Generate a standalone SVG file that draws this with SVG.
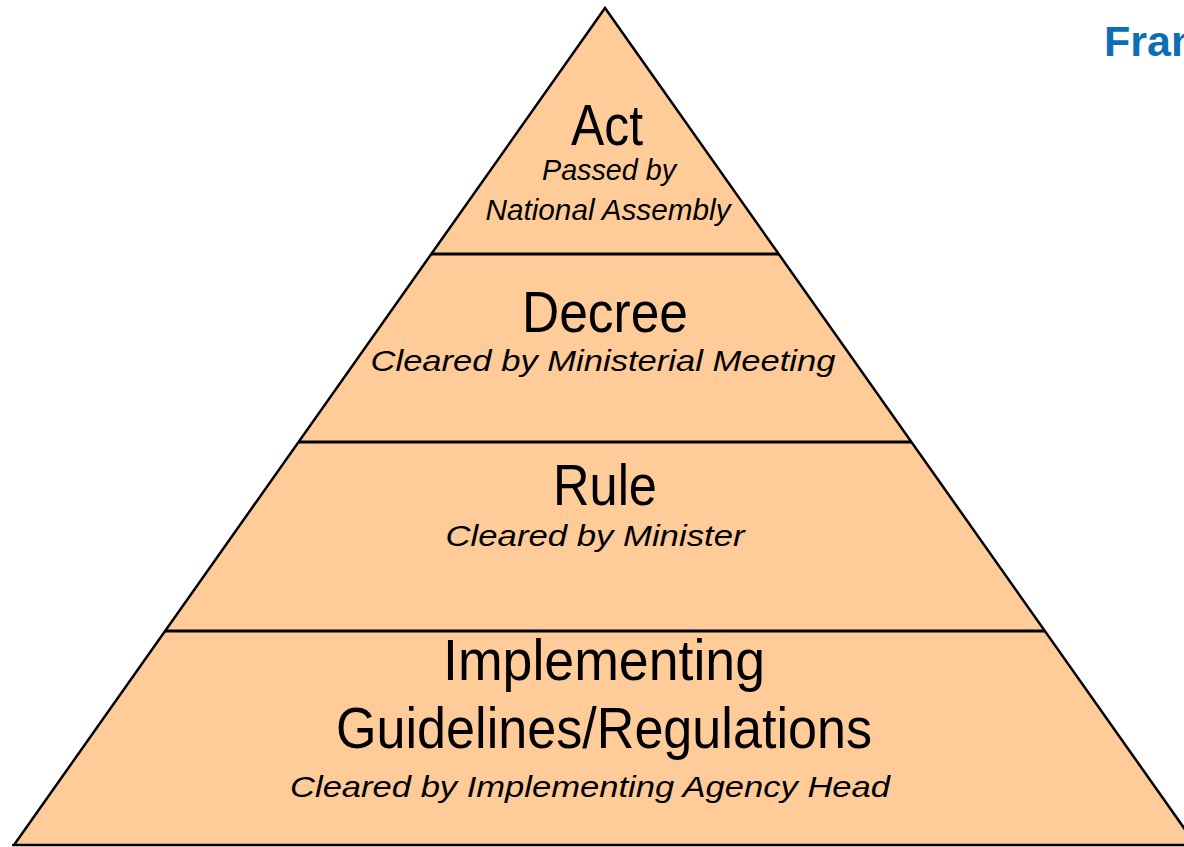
<svg xmlns="http://www.w3.org/2000/svg" width="1184" height="847" viewBox="0 0 1184 847">
<style>
.title{font-family:"Liberation Sans",Arial,sans-serif;font-size:57px;fill:#000;text-anchor:middle}
.sub{font-family:"Liberation Sans",Arial,sans-serif;font-style:italic;font-size:30px;fill:#000;text-anchor:middle}
.div{stroke:#000;stroke-width:3;fill:none}
.head{font-family:"Liberation Sans",Arial,sans-serif;font-weight:bold;font-size:43px;fill:#0F6DB5}
</style>
<rect width="1184" height="847" fill="#fff"/>
<g id="pyramid">
<polygon points="605,8 14,845 1196,845" fill="#FFCC99" stroke="#000" stroke-width="2.5"/>
<line x1="12" y1="845" x2="1184" y2="845" stroke="#000" stroke-width="2"/>
<line class="div" x1="431" y1="254" x2="779" y2="254"/>
<line class="div" x1="299" y1="442" x2="911" y2="442"/>
<line class="div" x1="165" y1="631" x2="1045" y2="631"/>
</g>
<g id="act">
<text class="title" x="607" y="145" textLength="72" lengthAdjust="spacingAndGlyphs">Act</text>
<text class="sub" x="609" y="180" textLength="134" lengthAdjust="spacingAndGlyphs">Passed by</text>
<text class="sub" x="608" y="220" textLength="245" lengthAdjust="spacingAndGlyphs">National Assembly</text>
</g>
<g id="decree">
<text class="title" x="605" y="332" textLength="166" lengthAdjust="spacingAndGlyphs">Decree</text>
<text class="sub" x="603" y="371" textLength="465" lengthAdjust="spacingAndGlyphs">Cleared by Ministerial Meeting</text>
</g>
<g id="rule">
<text class="title" x="605" y="505" textLength="104" lengthAdjust="spacingAndGlyphs">Rule</text>
<text class="sub" x="595" y="546" textLength="299" lengthAdjust="spacingAndGlyphs">Cleared by Minister</text>
</g>
<g id="implementing">
<text class="title" x="604" y="680" textLength="322" lengthAdjust="spacingAndGlyphs">Implementing</text>
<text class="title" x="604" y="748" textLength="536" lengthAdjust="spacingAndGlyphs">Guidelines/Regulations</text>
<text class="sub" x="590" y="797" textLength="600" lengthAdjust="spacingAndGlyphs">Cleared by Implementing Agency Head</text>
</g>
<g id="heading">
<text class="head" x="1104" y="56">Fran</text>
</g>
</svg>
